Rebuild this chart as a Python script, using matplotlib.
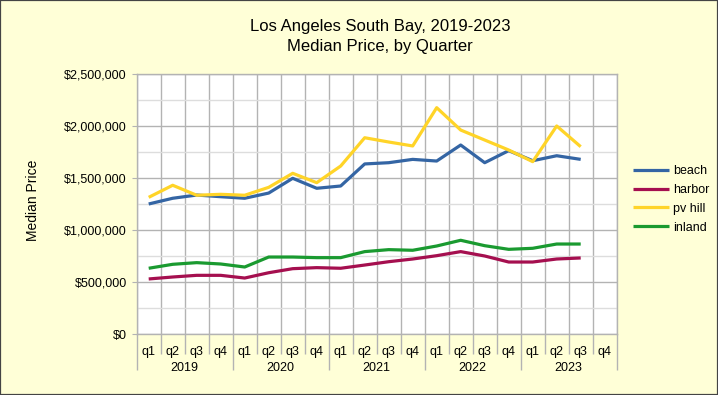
import matplotlib
matplotlib.use("Agg")
import matplotlib.pyplot as plt
from matplotlib.patches import Rectangle
from matplotlib.ticker import FuncFormatter, MultipleLocator

plt.rcParams['font.family'] = ['Liberation Sans', 'DejaVu Sans']

years = ["2019", "2020", "2021", "2022", "2023"]
quarters = ["q1", "q2", "q3", "q4"]
series_names = ["beach", "harbor", "pv hill", "inland"]
beach = [1253000, 1308000, 1339000, 1323000, 1308000, 1358000, 1500000, 1404000, 1426000, 1638000,
         1650000, 1682000, 1666000, 1820000, 1650000, 1766000, 1669000, 1717000, 1682000]
harbor = [532000, 551000, 567000, 567000, 541000, 592000, 631000, 641000, 635000, 666000,
          698000, 724000, 756000, 795000, 753000, 695000, 695000, 724000, 734000]
pv_hill = [1317000, 1433000, 1337000, 1346000, 1337000, 1413000, 1548000, 1458000, 1618000, 1890000,
           1849000, 1811000, 2179000, 1964000, 1868000, 1772000, 1660000, 2003000, 1804000]
inland = [635000, 673000, 689000, 676000, 647000, 743000, 743000, 737000, 737000, 795000,
          814000, 808000, 849000, 904000, 852000, 817000, 827000, 868000, 868000]
colors = ["#3465a4", "#a50f4f", "#ffd428", "#1a9a30"]

W, H = 718, 395
fig = plt.figure(figsize=(W / 100, H / 100), dpi=100)
bg = "#ffffd7"
fig.patch.set_facecolor(bg)
fig.patches.append(Rectangle((0, 0), 1, 1, transform=fig.transFigure, fill=False,
                             edgecolor="#444444", linewidth=1.6, zorder=10))

left, right, top, bottom = 136.7, 616.7, 74.3, 334.3
ax = fig.add_axes([left / W, 1 - bottom / H, (right - left) / W, (bottom - top) / H])
ax.set_facecolor("white")

n_cat = len(years) * len(quarters)
xs = list(range(len(beach)))
for name, vals, c in zip(series_names, [beach, harbor, pv_hill, inland], colors):
    ax.plot(xs, vals, color=c, linewidth=2.3, label=name, solid_capstyle='butt', zorder=3)

ax.set_xlim(-0.5, n_cat - 0.5)
ax.set_ylim(0, 2500000)

grid_c = "#b3b3b3"
ax.yaxis.set_major_locator(MultipleLocator(500000))
ax.yaxis.set_minor_locator(MultipleLocator(250000))
ax.yaxis.set_major_formatter(FuncFormatter(lambda v, p: "${:,.0f}".format(v)))
ax.grid(axis='y', which='major', color=grid_c, linewidth=1.0, zorder=1)
ax.grid(axis='y', which='minor', color="#dddddd", linewidth=1.0, zorder=1)
ax.tick_params(axis='y', which='major', length=3.6, color=grid_c, labelsize=9, pad=3.5, labelcolor="#000000")
ax.tick_params(axis='y', which='minor', length=0)

bounds = [i - 0.5 for i in range(n_cat + 1)]
year_bounds = [i * 4 - 0.5 for i in range(len(years) + 1)]
ax.set_xticks(year_bounds)
ax.set_xticklabels([])
ax.set_xticks(bounds, minor=True)
ax.tick_params(axis='x', which='major', length=25.9, color=grid_c, width=1.0)
ax.tick_params(axis='x', which='minor', length=14.4, color=grid_c, width=1.0)
for b in bounds:
    ax.axvline(b, color=grid_c, linewidth=1.0, zorder=1)

for s in ax.spines.values():
    s.set_color(grid_c)
    s.set_linewidth(1.0)

for i in range(n_cat):
    ax.annotate(quarters[i % 4], xy=(i, 0), xycoords=('data', 'axes fraction'),
                xytext=(0, -12.9), textcoords='offset points', ha='center', va='center', fontsize=9)
for j, y in enumerate(years):
    ax.annotate(y, xy=(j * 4 + 1.5, 0), xycoords=('data', 'axes fraction'),
                xytext=(0, -24.2), textcoords='offset points', ha='center', va='center', fontsize=9)

fig.text(380 / W, 1 - 26 / H, "Los Angeles South Bay, 2019-2023", ha='center', va='center', fontsize=12)
fig.text(380 / W, 1 - 46 / H, "Median Price, by Quarter", ha='center', va='center', fontsize=12)
fig.text(33 / W, 1 - 200.7 / H, "Median Price", rotation=90, ha='center', va='center', fontsize=10)

leg = ax.legend(loc='upper left', bbox_to_anchor=(633 / W, 1 - 165 / H), bbox_transform=fig.transFigure,
                frameon=False, fontsize=9, handlelength=2.9, handletextpad=0.3, labelspacing=0.55,
                borderaxespad=0, borderpad=0)

fig.savefig("out.png", dpi=100, facecolor=bg)
